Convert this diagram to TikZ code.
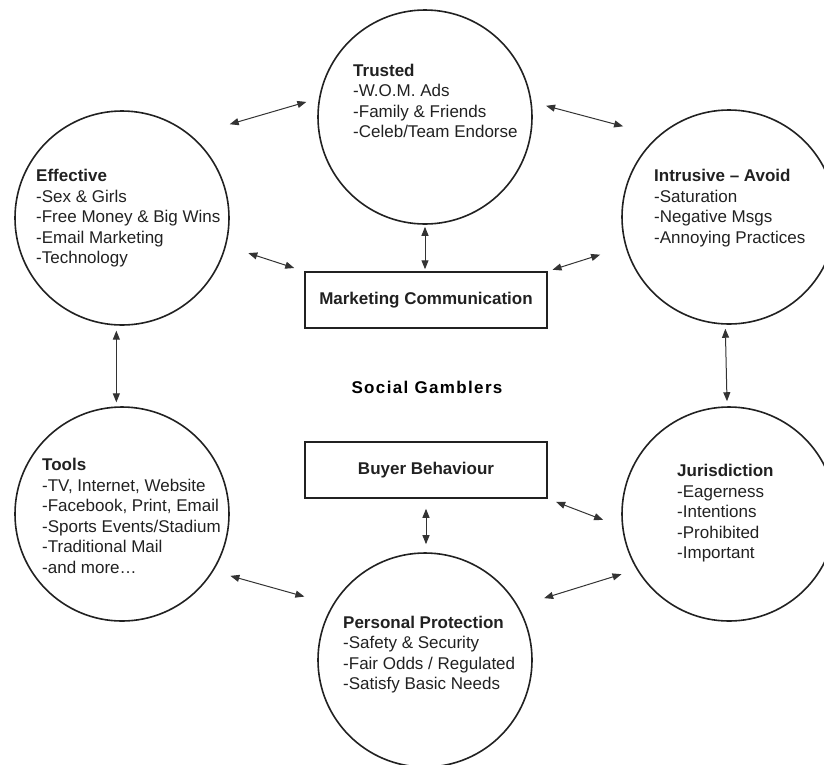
\documentclass[tikz,border=0pt]{standalone}
\usepackage{fontspec}
\setmainfont{Liberation Sans}
\usetikzlibrary{arrows.meta}

\begin{document}
\begin{tikzpicture}[x=1pt,y=-1pt,
        every node/.style={font=\fontsize{17}{20.5}\selectfont, text=black!87},
        topic/.style={draw=black!87, line width=1.6pt, circle, minimum size=214pt, inner sep=0pt},
        items/.style={align=left, anchor=base west, inner sep=0pt},
        stage/.style={draw=black!87, line width=1.5pt, minimum width=242pt, minimum height=56pt,
            font=\fontsize{17}{20.5}\selectfont\bfseries},
        link/.style={{Triangle[length=9pt,width=7pt]}-{Triangle[length=9pt,width=7pt]}, line width=1pt, draw=black!80}]
        \useasboundingbox (0,0) rectangle (824,764);
        \clip (0,0) rectangle (824,764);
        % the six circles
        \node[topic] (trusted) at (425,117) {};
        \node[topic] (effective) at (122,218) {};
        \node[topic] (intrusive) at (729,217) {};
        \node[topic] (tools) at (122,514) {};
        \node[topic] (jurisdiction) at (729,514) {};
        \node[topic] (protection) at (425,660) {};
        % texts, placed by the baseline of their last line
        \node[items] (trustedtext) at (353,137.5) {\textbf{Trusted}\\-W.O.M. Ads\\-Family \& Friends\\-Celeb/Team Endorse};
        \node[items] (effectivetext) at (36,263.7) {\textbf{Effective}\\-Sex \& Girls\\-Free Money \& Big Wins\\-Email Marketing\\-Technology};
        \node[items] (intrusivetext) at (654,243.2) {\textbf{Intrusive – Avoid}\\-Saturation\\-Negative Msgs\\-Annoying Practices};
        \node[items] (toolstext) at (42,573.2) {\textbf{Tools}\\-TV, Internet, Website\\-Facebook, Print, Email\\-Sports Events/Stadium\\-Traditional Mail\\-and more…};
        \node[items] (jurisdictiontext) at (677,558.7) {\textbf{Jurisdiction}\\-Eagerness\\-Intentions\\-Prohibited\\-Important};
        \node[items] (protectiontext) at (343,689.8) {\textbf{Personal Protection}\\-Safety \& Security\\-Fair Odds / Regulated\\-Satisfy Basic Needs};
        % middle
        \node[stage] (marketing) at (426,300) {Marketing Communication};
        \node[stage] (buyer) at (426,470) {Buyer Behaviour};
        \node[font=\fontsize{17}{20.5}\selectfont\bfseries\addfontfeatures{LetterSpace=8}, text=black] (social) at (427,387) {Social Gamblers};
        % arrows
        \draw[link, shorten <=40pt, shorten >=13pt] (effective.50) -- (trusted.170.5);
        \draw[link, shorten <=14.8pt, shorten >=36.4pt] (trusted.8.7) -- (intrusive.131.6);
        \draw[link, shorten <=23.3pt, shorten >=10.5pt] (effective.345.6) -- (marketing.north west);
        \draw[link, shorten <=5pt, shorten >=26.5pt] (marketing.north east) -- (intrusive.196.3);
        \draw[link, shorten <=17.6pt, shorten >=29.3pt] (tools.328.4) -- (protection.149.2);
        \draw[link, shorten <=27pt, shorten >=15.8pt] (protection.30.6) -- (jurisdiction.211.9);
        \draw[link, shorten <=9pt, shorten >=20.2pt] (buyer.south east) -- (jurisdiction.187.6);
        \draw[link, shorten <=2pt, shorten >=2pt] (trusted.south) -- (trusted.south |- marketing.north);
        \draw[link, shorten <=5pt, shorten >=4pt] (effective.267) -- (tools.93);
        \draw[link, shorten <=4pt, shorten >=5pt] (intrusive.268.5) -- (jurisdiction.91.5);
        \draw[link, shorten <=10pt, shorten >=8pt] (buyer.south) -- (buyer.south |- protection.north);
\end{tikzpicture}
\end{document}
